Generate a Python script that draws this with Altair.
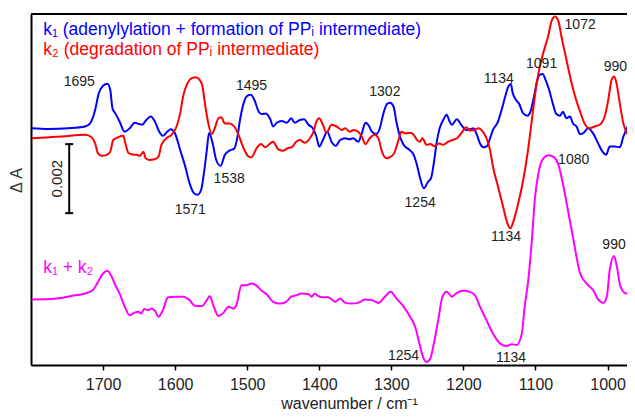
import altair as alt
import pandas as pd

# ---- data (ΔA in units of 1e-3, relative to each trace's baseline) ----
blue_w = [1799,1776,1748,1725,1718,1711,1706,1700,1694,1690,1687,1683,1677,1670,1663,1656,1651,1646,1640,1634,1628,1622,1617,1611,1606,1600,1593,1586,1580,1574,1569,1564,1560,1556,1553,1548,1543,1537,1531,1524,1518,1514,1510,1505,1500,1495,1490,1484,1480,1474,1468,1464,1459,1452,1445,1439,1434,1427,1421,1415,1409,1404,1400,1395,1389,1383,1377,1371,1364,1358,1353,1346,1341,1336,1332,1327,1321,1316,1311,1306,1302,1297,1293,1288,1283,1276,1269,1265,1260,1255,1249,1245,1241,1237,1233,1228,1223,1220,1216,1209,1203,1196,1191,1186,1182,1177,1172,1167,1163,1159,1152,1147,1142,1138,1134,1132,1127,1123,1117,1111,1107,1102,1098,1094,1090,1086,1081,1076,1071,1066,1062,1057,1052,1048,1043,1038,1033,1027,1020,1013,1007,1002,997,990,983,978,971,965,962]
blue_v = [0,-0.02,0,0.05,0.14,0.53,1.01,1.23,1.29,1.11,0.58,0.43,0.19,-0.10,0,0.16,0.13,0.10,0.24,0.34,0.19,-0.10,-0.22,-0.10,-0.03,-0.16,-0.63,-1.11,-1.59,-1.88,-1.93,-1.79,-1.30,-0.63,-0.14,-0.43,-0.92,-1.09,-0.77,-0.64,-0.59,-0.30,0.24,0.72,0.94,0.97,0.82,0.48,0.41,0.43,0.26,0.05,0.16,0.21,0.16,0.29,0.16,0.24,0.26,0.10,0,-0.24,-0.53,-0.34,-0.10,-0.39,-0.51,-0.34,-0.29,-0.32,-0.29,-0.39,-0.15,0.16,0.10,-0.10,-0.17,0,0.43,0.70,0.74,0.63,0.19,-0.24,-0.48,-0.61,-0.77,-1.02,-1.45,-1.74,-1.55,-1.45,-1.00,-0.40,0.00,0.24,0.39,0.24,0.10,0.26,0.10,-0.05,-0.03,0,-0.15,-0.44,-0.55,-0.51,-0.29,-0.05,0.19,0.53,0.92,1.19,1.28,1.06,0.82,0.72,0.43,0.36,0.48,0.92,1.35,1.55,1.57,1.40,1.11,0.72,0.41,0.36,0.48,0.29,0.34,0.14,0.05,-0.17,-0.13,0,-0.15,-0.44,-0.68,-0.77,-0.53,-0.53,-0.55,-0.24,0.10,0.29,0.32]

red_w = [1799,1757,1725,1716,1711,1707,1702,1695,1690,1686,1679,1672,1669,1665,1659,1653,1649,1644,1641,1635,1629,1623,1619,1612,1605,1598,1593,1589,1583,1577,1571,1566,1562,1559,1554,1549,1545,1540,1536,1531,1524,1518,1512,1505,1498,1494,1487,1481,1475,1468,1464,1457,1450,1444,1438,1432,1427,1420,1413,1408,1404,1400,1395,1390,1383,1376,1369,1364,1358,1352,1346,1341,1336,1330,1323,1318,1313,1307,1302,1296,1290,1286,1280,1274,1269,1265,1260,1257,1251,1246,1240,1234,1228,1221,1215,1209,1203,1196,1191,1185,1179,1173,1168,1163,1159,1152,1145,1139,1135,1130,1124,1117,1111,1105,1099,1094,1088,1082,1078,1073,1068,1064,1058,1052,1045,1038,1032,1025,1018,1011,1004,999,995,991,988,983,978,973,967,962]
red_v = [0,0.05,0.10,0.03,-0.15,-0.44,-0.51,-0.48,-0.39,-0.05,0.03,0.07,-0.15,-0.42,-0.47,-0.48,-0.51,-0.39,-0.58,-0.63,-0.61,-0.53,-0.19,0,0.10,0.34,0.72,1.21,1.59,1.74,1.77,1.69,1.50,1.06,0.43,0.12,0.29,0.58,0.61,0.43,0.43,0.34,0.10,-0.29,-0.53,-0.55,-0.29,-0.17,-0.26,-0.15,-0.10,-0.32,-0.36,-0.29,-0.26,-0.10,-0.05,-0.13,0,0.19,0.48,0.58,0.39,0.16,0.39,0.34,0.24,0.29,0.19,0.24,0.19,0.05,-0.17,0,0.10,0,-0.39,-0.58,-0.55,-0.43,-0.05,0.19,0.14,0.16,0.10,-0.03,-0.10,0,-0.19,-0.17,-0.23,-0.15,-0.19,-0.10,-0.05,0,0.14,0.32,0.22,0.24,0.29,0.19,0,-0.34,-0.82,-1.40,-1.98,-2.46,-2.61,-2.37,-1.89,-1.21,-0.44,0.53,1.50,2.08,2.56,2.99,3.38,3.53,3.38,2.95,2.37,1.79,1.21,0.77,0.43,0.29,0.34,0.39,0.63,1.11,1.64,1.79,1.64,1.01,0.43,0.14,0,-0.05]

mag_w = [1799,1767,1744,1725,1714,1707,1700,1694,1689,1683,1677,1670,1663,1657,1651,1647,1643,1637,1633,1628,1623,1617,1610,1600,1589,1580,1573,1563,1556,1552,1547,1540,1533,1526,1519,1515,1508,1501,1494,1487,1480,1473,1464,1455,1446,1439,1432,1425,1415,1411,1406,1402,1395,1388,1382,1378,1371,1364,1355,1346,1337,1327,1318,1309,1301,1293,1283,1274,1267,1261,1256,1251,1246,1241,1235,1229,1223,1216,1209,1200,1191,1184,1177,1168,1159,1149,1140,1133,1126,1119,1115,1110,1105,1101,1096,1089,1082,1075,1068,1062,1055,1048,1038,1029,1020,1013,1006,1001,997,991,987,982,974,962]
mag_v = [0,0.02,0.10,0.17,0.27,0.51,0.75,0.83,0.70,0.41,0.17,-0.21,-0.46,-0.39,-0.36,-0.41,-0.28,-0.31,-0.26,-0.33,-0.50,-0.31,0.06,0.08,0.08,-0.02,-0.18,-0.19,-0.02,0.10,-0.17,-0.48,-0.39,-0.21,-0.26,-0.17,0.41,0.41,0.46,0.40,0.25,0.15,-0.07,-0.12,-0.07,0.08,0.12,0.17,0.15,0.08,0.17,0.10,0.06,0.06,-0.01,-0.07,0.03,-0.10,-0.12,-0.10,0,-0.02,-0.10,0.08,0.22,0.03,-0.21,-0.50,-0.79,-1.28,-1.67,-1.81,-1.71,-1.28,-0.60,0.08,0.22,0.08,0.19,0.25,0.22,0.12,-0.21,-0.60,-0.99,-1.28,-1.35,-1.30,-1.32,-0.99,-0.21,0.56,1.72,2.88,3.65,4.09,4.18,4.13,3.89,3.36,2.59,1.81,0.75,0.46,0.27,0,-0.10,0.08,0.85,1.26,0.95,0.37,0.17,0.22]

series_names = ["k1", "k2", "k1+k2"]
series_colors = ["#0000ff", "#ff0000", "#ff00ff"]
series_offsets = [6.86, 6.57, 1.90]   # vertical stacking offsets (1e-3 ΔA)

# peak labels
lab_text = ["1695", "1571", "1538", "1495", "1302", "1254", "1134", "1091", "1072", "990", "1134", "1080", "990", "1254", "1134"]
lab_w = [1733, 1579, 1525, 1494, 1309, 1260, 1151, 1091.5, 1038, 989, 1141, 1047, 991, 1283, 1134]
lab_y = [8.07, 4.37, 5.27, 7.97, 7.78, 4.59, 8.18, 8.60, 9.74, 8.53, 3.60, 5.83, 3.35, 0.15, 0.10]

# legend-like texts
leg_text = ["k\u2081 (adenylylation + formation of PP\u1d62 intermediate)",
            "k\u2082 (degradation of PP\u1d62 intermediate)",
            "k\u2081 + k\u2082"]
leg_w = [1783, 1783, 1783]
leg_y = [9.57, 8.99, 2.66]

# scale bar: 0.002 ΔA
bar_w = 1747
bar_bottom = 4.40
bar_len = 2.0
bar_cap = 5.5

x_ticks = [1700, 1600, 1500, 1400, 1300, 1200, 1100, 1000]
x_domain = [973, 1800]
y_domain = [0, 10.17]
W, H = 596, 351

# ---- build tables ----
rows = []
for name, ws, vs, off in [("k1", blue_w, blue_v, series_offsets[0]),
                          ("k2", red_w, red_v, series_offsets[1]),
                          ("k1+k2", mag_w, mag_v, series_offsets[2])]:
    for w, v in zip(ws, vs):
        rows.append({"series": name, "w": w, "y": v + off})
df = pd.DataFrame(rows)

df_lab = pd.DataFrame({"t": lab_text, "w": lab_w, "y": lab_y})
df_leg = pd.DataFrame({"t": leg_text, "w": leg_w, "y": leg_y, "series": series_names})
df_bar = pd.DataFrame({"w": [bar_w], "y1": [bar_bottom], "y2": [bar_bottom + bar_len],
                       "c1": [bar_w - bar_cap], "c2": [bar_w + bar_cap]})
df_bar_lab = pd.DataFrame({"t": ["0.002"], "w": [1764], "y": [bar_bottom + bar_len / 2]})

xs = alt.Scale(domain=x_domain, reverse=True, nice=False, zero=False)
ys = alt.Scale(domain=y_domain, nice=False, zero=False)
cs = alt.Scale(domain=series_names, range=series_colors)

xaxis = alt.Axis(values=x_ticks, grid=False, domain=True, domainColor="black",
                 domainWidth=2, tickSize=5, tickWidth=1.5,
                 tickColor="black", labelFontSize=16, labelColor="#222",
                 labelPadding=6, title="wavenumber / cm\u207b\u00b9", titleFontSize=16,
                 titleFontWeight="normal", titleColor="#222", titleX=318, titleY=43,
                 titleBaseline="alphabetic", format="d")
yaxis = alt.Axis(labels=False, ticks=False, grid=False, domain=True, domainColor="black",
                 domainWidth=2, title="\u0394 A",
                 titleFontSize=16, titleFontWeight="normal", titleColor="#333",
                 titleX=-15, titleY=166, titleAngle=270, titleBaseline="middle",
                 titleAlign="center")

lines = alt.Chart(df).mark_line(strokeWidth=2, interpolate="monotone", clip=True).encode(
    x=alt.X("w:Q", scale=xs, axis=xaxis),
    y=alt.Y("y:Q", scale=ys, axis=yaxis),
    color=alt.Color("series:N", scale=cs, legend=None),
    detail="series:N",
)

top_frame = alt.Chart(df_bar).mark_rule(color="black", strokeWidth=2).encode(
    x=alt.value(0), x2=alt.value(W), y=alt.value(0))

labels = alt.Chart(df_lab).mark_text(fontSize=14, color="#222", align="center",
                                     baseline="alphabetic").encode(
    x=alt.X("w:Q", scale=xs), y=alt.Y("y:Q", scale=ys), text="t:N")

legend_txt = alt.Chart(df_leg).mark_text(fontSize=17.5, align="left",
                                         baseline="alphabetic").encode(
    x=alt.X("w:Q", scale=xs), y=alt.Y("y:Q", scale=ys), text="t:N",
    color=alt.Color("series:N", scale=cs, legend=None))

bar = alt.Chart(df_bar).mark_rule(color="black", strokeWidth=2).encode(
    x=alt.X("w:Q", scale=xs), y=alt.Y("y1:Q", scale=ys), y2="y2:Q")
cap_lo = alt.Chart(df_bar).mark_rule(color="black", strokeWidth=2).encode(
    x=alt.X("c1:Q", scale=xs), x2="c2:Q", y=alt.Y("y1:Q", scale=ys))
cap_hi = alt.Chart(df_bar).mark_rule(color="black", strokeWidth=2).encode(
    x=alt.X("c1:Q", scale=xs), x2="c2:Q", y=alt.Y("y2:Q", scale=ys))
bar_lab = alt.Chart(df_bar_lab).mark_text(fontSize=15, color="#222", angle=270,
                                          align="center", baseline="middle").encode(
    x=alt.X("w:Q", scale=xs), y=alt.Y("y:Q", scale=ys), text="t:N")

chart = alt.layer(lines, top_frame, labels, legend_txt, bar, cap_lo, cap_hi, bar_lab).properties(
    width=W, height=H,
    autosize=alt.AutoSizeParams(type="none"),
    padding={"left": 23, "top": 6, "right": 0, "bottom": 45},
).configure(font="Liberation Sans").configure_view(stroke=None)

chart.save("out.html", embed_options={"renderer": "svg", "actions": False})
